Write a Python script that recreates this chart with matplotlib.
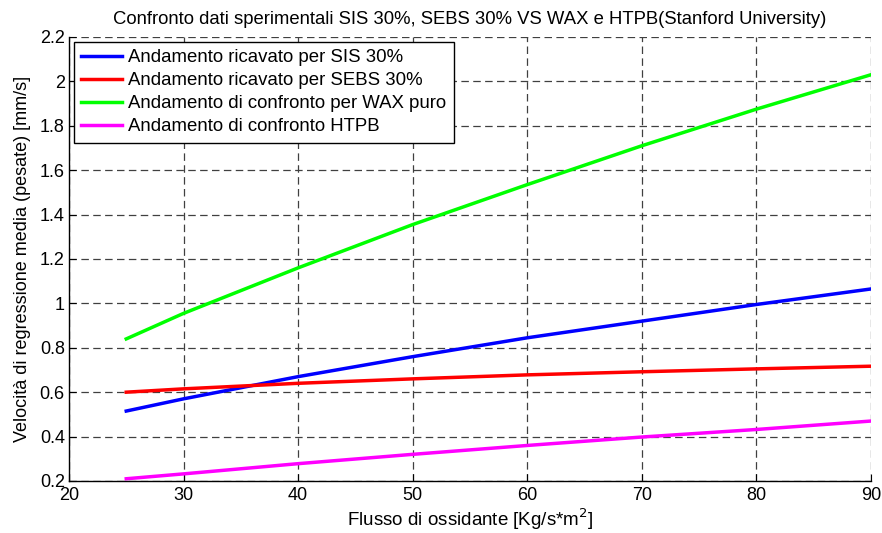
import matplotlib
matplotlib.use("Agg")
import matplotlib.pyplot as plt
import numpy as np

plt.rcParams['font.family'] = ['Liberation Sans', 'DejaVu Sans']

# flusso di ossidante [Kg/s*m^2]
G = [25, 30, 40, 50, 60, 70, 80, 90]
# velocita' di regressione [mm/s]
sis30 = [0.515, 0.57, 0.67, 0.76, 0.845, 0.92, 0.995, 1.065]
sebs30 = [0.60, 0.615, 0.64, 0.66, 0.678, 0.692, 0.705, 0.717]
wax = [0.84, 0.955, 1.16, 1.355, 1.535, 1.71, 1.875, 2.03]
htpb = [0.21, 0.232, 0.278, 0.32, 0.36, 0.398, 0.432, 0.47]

labels = ["Andamento ricavato per SIS 30%",
          "Andamento ricavato per SEBS 30%",
          "Andamento di confronto per WAX puro",
          "Andamento di confronto HTPB"]
colors = ["#0000ff", "#ff0000", "#00ff00", "#ff00ff"]

fig = plt.figure(figsize=(8.82, 5.33), dpi=100)
ax = fig.add_axes([0.0782, 0.0976, 0.9093, 0.833])

for y, lab, c in zip([sis30, sebs30, wax, htpb], labels, colors):
    ax.plot(G, y, color=c, lw=2.5, label=lab)

ax.set_xlim(20, 90)
ax.set_ylim(0.2, 2.2)
ax.set_xticks(np.arange(20, 91, 10))
ax.set_yticks(np.arange(0.2, 2.21, 0.2))
ax.set_yticklabels(["0.2", "0.4", "0.6", "0.8", "1", "1.2", "1.4", "1.6", "1.8", "2", "2.2"])
ax.grid(True, color="#404040", linestyle=(0, (6, 3.5)), lw=0.9)
ax.tick_params(direction="in", labelsize=13, length=5)
ax.tick_params(axis="x", pad=4)
ax.tick_params(axis="y", pad=3)
ax.spines["top"].set_visible(False)
ax.spines["right"].set_visible(False)
for s in ax.spines.values():
    s.set_linewidth(1.0)

ax.set_title("Confronto dati sperimentali SIS 30%, SEBS 30% VS WAX e HTPB(Stanford University)",
             fontsize=13.3, pad=9)
ax.set_xlabel("Flusso di ossidante [Kg/s*m$^2$]", fontsize=13.5, labelpad=2)
ax.set_ylabel("Velocità di regressione media (pesate) [mm/s]", fontsize=13, labelpad=6)

leg = ax.legend(loc="upper left", fontsize=13.4, fancybox=False, framealpha=1,
                edgecolor="black", borderpad=0.42, labelspacing=0.32,
                handlelength=2.2, handletextpad=0.3, borderaxespad=0.25)
leg.get_frame().set_linewidth(1.0)

fig.savefig("out.png", dpi=100)
